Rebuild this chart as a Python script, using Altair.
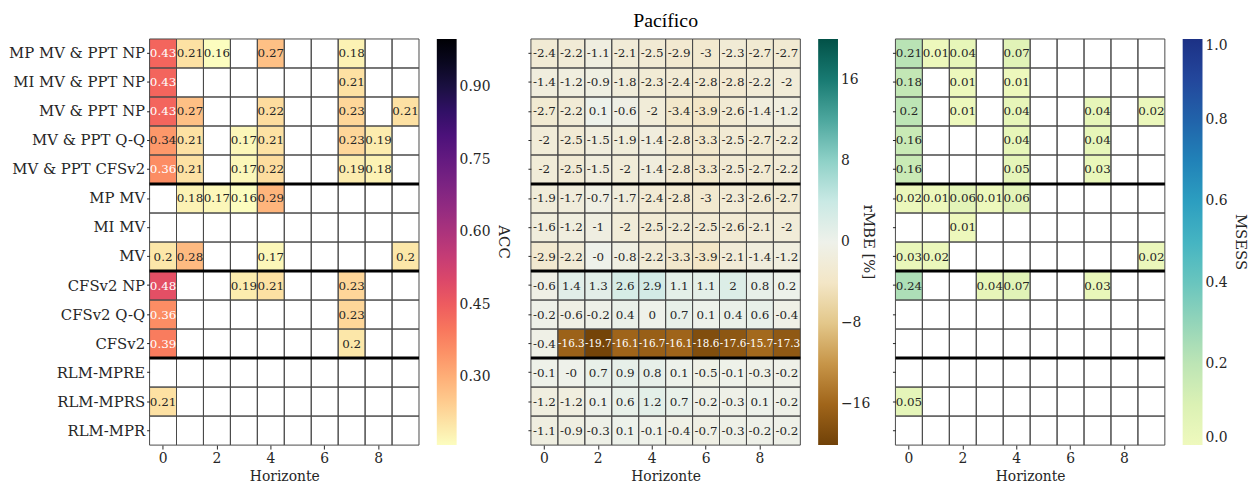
import altair as alt
import pandas as pd

rows = ["MP MV & PPT NP", "MI MV & PPT NP", "MV & PPT NP", "MV & PPT Q-Q", "MV & PPT CFSv2",
        "MP MV", "MI MV", "MV", "CFSv2 NP", "CFSv2 Q-Q", "CFSv2",
        "RLM-MPRE", "RLM-MPRS", "RLM-MPR"]
horizons = list(range(10))
separators = ["MV & PPT CFSv2", "MV", "CFSv2"]
N = None

acc = [
    [0.43, 0.21, 0.16, N, 0.27, N, N, 0.18, N, N],
    [0.43, N, N, N, N, N, N, 0.21, N, N],
    [0.43, 0.27, N, N, 0.22, N, N, 0.23, N, 0.21],
    [0.34, 0.21, N, 0.17, 0.21, N, N, 0.23, 0.19, N],
    [0.36, 0.21, N, 0.17, 0.22, N, N, 0.19, 0.18, N],
    [N, 0.18, 0.17, 0.16, 0.29, N, N, N, N, N],
    [N, N, N, N, N, N, N, N, N, N],
    [0.2, 0.28, N, N, 0.17, N, N, N, N, 0.2],
    [0.48, N, N, 0.19, 0.21, N, N, 0.23, N, N],
    [0.36, N, N, N, N, N, N, 0.23, N, N],
    [0.39, N, N, N, N, N, N, 0.2, N, N],
    [N, N, N, N, N, N, N, N, N, N],
    [0.21, N, N, N, N, N, N, N, N, N],
    [N, N, N, N, N, N, N, N, N, N],
]

rmbe = [
    [-2.4, -2.2, -1.1, -2.1, -2.5, -2.9, -3, -2.3, -2.7, -2.7],
    [-1.4, -1.2, -0.9, -1.8, -2.3, -2.4, -2.8, -2.8, -2.2, -2],
    [-2.7, -2.2, 0.1, -0.6, -2, -3.4, -3.9, -2.6, -1.4, -1.2],
    [-2, -2.5, -1.5, -1.9, -1.4, -2.8, -3.3, -2.5, -2.7, -2.2],
    [-2, -2.5, -1.5, -2, -1.4, -2.8, -3.3, -2.5, -2.7, -2.2],
    [-1.9, -1.7, -0.7, -1.7, -2.4, -2.8, -3, -2.3, -2.6, -2.7],
    [-1.6, -1.2, -1, -2, -2.5, -2.2, -2.5, -2.6, -2.1, -2],
    [-2.9, -2.2, -0.0, -0.8, -2.2, -3.3, -3.9, -2.1, -1.4, -1.2],
    [-0.6, 1.4, 1.3, 2.6, 2.9, 1.1, 1.1, 2, 0.8, 0.2],
    [-0.2, -0.6, -0.2, 0.4, 0.0, 0.7, 0.1, 0.4, 0.6, -0.4],
    [-0.4, -16.3, -19.7, -16.1, -16.7, -16.1, -18.6, -17.6, -15.7, -17.3],
    [-0.1, -0.0, 0.7, 0.9, 0.8, 0.1, -0.5, -0.1, -0.3, -0.2],
    [-1.2, -1.2, 0.1, 0.6, 1.2, 0.7, -0.2, -0.3, 0.1, -0.2],
    [-1.1, -0.9, -0.3, 0.1, -0.1, -0.4, -0.7, -0.3, -0.2, -0.2],
]

msess = [
    [0.21, 0.01, 0.04, N, 0.07, N, N, N, N, N],
    [0.18, N, 0.01, N, 0.01, N, N, N, N, N],
    [0.2, N, 0.01, N, 0.04, N, N, 0.04, N, 0.02],
    [0.16, N, N, N, 0.04, N, N, 0.04, N, N],
    [0.16, N, N, N, 0.05, N, N, 0.03, N, N],
    [0.02, 0.01, 0.06, 0.01, 0.06, N, N, N, N, N],
    [N, N, 0.01, N, N, N, N, N, N, N],
    [0.03, 0.02, N, N, N, N, N, N, N, 0.02],
    [0.24, N, N, 0.04, 0.07, N, N, 0.03, N, N],
    [N, N, N, N, N, N, N, N, N, N],
    [N, N, N, N, N, N, N, N, N, N],
    [N, N, N, N, N, N, N, N, N, N],
    [0.05, N, N, N, N, N, N, N, N, N],
    [N, N, N, N, N, N, N, N, N, N],
]

FONT = "DejaVu Serif"
TXT = "#262626"
W, H = 272, 410


def to_long(values):
    recs = []
    for r, name in enumerate(rows):
        for h in horizons:
            v = values[r][h]
            recs.append({"row": name, "h": h, "v": v,
                         "lab": "" if v is None else f"{v:g}"})
    return pd.DataFrame(recs)


def panel(values, ltitle, domain, scheme, reverse, ticks, fmt, white_pred, show_labels,
          title_pad):
    df = to_long(values)
    X = alt.X("h:O", title="Horizonte",
              scale=alt.Scale(domain=horizons, paddingInner=0, paddingOuter=0),
              axis=alt.Axis(values=[0, 2, 4, 6, 8], labelAngle=0, domain=False,
                            tickSize=4, labelPadding=3, titlePadding=4))
    Y = alt.Y("row:N", title=None,
              scale=alt.Scale(domain=rows, paddingInner=0, paddingOuter=0),
              axis=alt.Axis(labels=show_labels, domain=False, tickSize=3, labelPadding=2))
    base = alt.Chart(df)
    colored = base.transform_filter("isValid(datum.v)").mark_rect().encode(
        x=X, y=Y,
        color=alt.Color("v:Q",
                        scale=alt.Scale(scheme=scheme, domain=domain, reverse=reverse),
                        legend=alt.Legend(title=ltitle, orient="right", direction="vertical",
                                          gradientLength=H, gradientThickness=20,
                                          values=ticks, format=fmt,
                                          labelFont=FONT, labelFontSize=14, labelColor=TXT,
                                          labelBaseline="middle", labelOffset=3,
                                          titleFont=FONT, titleFontSize=15, titleColor=TXT,
                                          titleFontWeight="normal", titleOrient="right",
                                          titleAnchor="middle", titlePadding=title_pad,
                                          offset=18, gradientStrokeWidth=0)))
    grid = base.mark_rect(filled=False, stroke="#4a4a4a", strokeWidth=1).encode(x=X, y=Y)
    tcolor = alt.when(white_pred).then(alt.value("white")).otherwise(alt.value(TXT))
    text_short = base.transform_filter(
        "isValid(datum.v) && length(datum.lab) <= 4").mark_text(
        font=FONT, fontSize=12).encode(x=X, y=Y, text="lab:N", color=tcolor)
    text_long = base.transform_filter(
        "isValid(datum.v) && length(datum.lab) > 4").mark_text(
        font=FONT, fontSize=10.5).encode(x=X, y=Y, text="lab:N", color=tcolor)
    rules = alt.Chart(pd.DataFrame({"row": separators})).mark_rule(
        color="black", strokeWidth=3).encode(y=alt.Y("row:N", bandPosition=1,
                                                     scale=alt.Scale(domain=rows)))
    return alt.layer(colored, grid, text_short, text_long, rules).properties(width=W, height=H)


p1 = panel(acc, "ACC", [0.16, 1.0], "magma", True, [0.3, 0.45, 0.6, 0.75, 0.9], ".2f",
           alt.datum.v > 0.35, True, 6)
p2 = panel(rmbe, "rMBE [%]", [-20, 20], "brownbluegreen", False, [-16, -8, 0, 8, 16], "d",
           alt.datum.v < -10, False, -10).properties(
    title=alt.Title("Pacífico", font="Liberation Serif", fontSize=20, fontWeight="normal",
                    color="black", anchor="middle", offset=8))
p3 = panel(msess, "MSESS", [0, 1], "yellowgreenblue", False, [0, 0.2, 0.4, 0.6, 0.8, 1.0], ".1f",
           alt.datum.v > 0.7, False, 6)

chart = alt.hconcat(p1, p2, p3, spacing=15).resolve_scale(color="independent").properties(
    padding={"left": 8, "top": 8, "right": 5, "bottom": 5}
).configure_view(stroke="transparent").configure_axis(
    labelFont=FONT, labelFontSize=14, labelColor=TXT,
    titleFont=FONT, titleFontSize=14, titleColor=TXT, titleFontWeight="normal",
    tickColor=TXT, grid=False
).configure_axisY(labelFontSize=15)

chart.save("out.html", embed_options={"renderer": "svg", "actions": False})
